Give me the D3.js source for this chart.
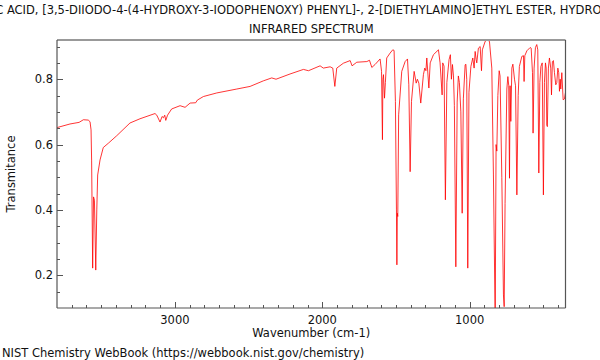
<!DOCTYPE html>
<html><head><meta charset="utf-8">
<script src="https://cdn.jsdelivr.net/npm/d3@7/dist/d3.min.js"></script>
<style>
html,body{margin:0;padding:0;background:#fff;}
svg{display:block;font-family:"DejaVu Sans",sans-serif;}
</style></head>
<body><svg id="c" width="600" height="360"></svg>
<script>
const titleLine1 = "ACETIC ACID, [3,5-DIIODO-4-(4-HYDROXY-3-IODOPHENOXY) PHENYL]-, 2-[DIETHYLAMINO]ETHYL ESTER, HYDROCHLORIDE";
const titleLine2 = "INFRARED SPECTRUM";
const xLabel = "Wavenumber (cm-1)";
const yLabel = "Transmitance";
const footer = "NIST Chemistry WebBook (https://webbook.nist.gov/chemistry)";
const xTickLabels = [3000, 2000, 1000];
const yTickLabels = [0.2, 0.4, 0.6, 0.8];

const wavenumber = [3800,3712,3650,3621,3588,3576,3569,3565,3558,3552,3546,3537,3530,3524,3508,3486,3452,3395,3305,3237,3135,3123,3101,3087,3078,3069,3062,3050,3022,2965,2931,2897,2859,2848,2807,2716,2580,2490,2400,2343,2314,2219,2128,2094,2015,1993,1947,1929,1915,1902,1857,1811,1798,1766,1698,1680,1664,1642,1608,1598,1592,1589,1585,1578,1572,1563,1540,1522,1513,1504,1497,1494,1491,1488,1482,1461,1438,1422,1413,1404,1395,1377,1363,1355,1345,1332,1314,1305,1297,1291,1277,1268,1246,1212,1201,1187,1183,1174,1165,1155,1140,1131,1124,1117,1110,1104,1094,1085,1077,1070,1060,1051,1043,1031,1026,1020,1013,1005,992,979,970,963,956,952,941,929,920,914,895,880,866,850,839,827,821,816,809,800,794,782,771,766,760,748,741,735,730,726,721,714,707,696,689,680,671,663,646,635,631,626,612,590,583,574,570,563,554,545,538,531,524,517,508,500,493,486,481,477,473,466,459,450,445,439,432,425,416,409,402,396,391,386,382,375,366,357,350];
const transmittance = [0.652,0.663,0.668,0.676,0.675,0.670,0.645,0.55,0.222,0.44,0.43,0.216,0.40,0.507,0.553,0.591,0.604,0.627,0.666,0.679,0.695,0.690,0.669,0.686,0.682,0.690,0.674,0.690,0.709,0.719,0.714,0.727,0.728,0.736,0.747,0.758,0.770,0.778,0.795,0.804,0.800,0.816,0.830,0.826,0.841,0.834,0.838,0.834,0.778,0.834,0.849,0.857,0.841,0.852,0.854,0.858,0.836,0.845,0.862,0.824,0.615,0.800,0.814,0.742,0.790,0.865,0.880,0.890,0.888,0.732,0.400,0.232,0.390,0.380,0.691,0.824,0.854,0.862,0.783,0.517,0.732,0.824,0.788,0.800,0.788,0.727,0.814,0.834,0.826,0.865,0.773,0.850,0.875,0.890,0.850,0.752,0.850,0.840,0.431,0.790,0.860,0.875,0.800,0.845,0.810,0.720,0.226,0.730,0.810,0.790,0.700,0.390,0.740,0.844,0.846,0.800,0.222,0.760,0.839,0.865,0.834,0.885,0.860,0.850,0.895,0.900,0.826,0.890,0.916,0.920,0.916,0.834,0.507,0.060,0.600,0.580,0.750,0.826,0.810,0.500,0.140,0.104,0.420,0.770,0.808,0.780,0.497,0.780,0.671,0.834,0.846,0.800,0.780,0.446,0.750,0.839,0.870,0.872,0.793,0.872,0.887,0.897,0.895,0.820,0.635,0.834,0.897,0.906,0.890,0.513,0.790,0.839,0.850,0.446,0.790,0.850,0.834,0.660,0.655,0.834,0.865,0.834,0.752,0.854,0.857,0.820,0.783,0.790,0.834,0.820,0.763,0.800,0.770,0.820,0.737,0.740,0.760];

const data = wavenumber.map((w,i)=>({w, t: transmittance[i]}));

const svg = d3.select("#c");
const L = 57, R = 565.5, T = 40, B = 308;
const x = d3.scaleLinear().domain([3800, 350]).range([L, R]);
const y = d3.scaleLinear().domain([0.1, 0.92]).range([B, T]);
const axisColor = "#555";

svg.append("clipPath").attr("id","clip").append("rect")
  .attr("x", L).attr("y", T).attr("width", R-L).attr("height", B-T);

// spectrum
svg.append("path").datum(data)
  .attr("clip-path","url(#clip)")
  .attr("fill","none").attr("stroke","#ff0000").attr("stroke-width",0.8)
  .attr("stroke-linejoin","round")
  .attr("d", d3.line().x(d=>x(d.w)).y(d=>y(d.t)));

// x axis minor ticks (every 100), major (every 1000)
const xMinor = d3.range(3700, 349, -100);
svg.append("g").selectAll("line").data(xMinor).join("line")
  .attr("x1", d=>Math.round(x(d))+0.5).attr("x2", d=>Math.round(x(d))+0.5)
  .attr("y1", B).attr("y2", d=> d%1000===0 ? B-6 : B-3)
  .attr("stroke", axisColor).attr("stroke-width",1);

// y ticks every 0.05
const yMinor = d3.range(0.15, 0.9201, 0.05).map(v=>+v.toFixed(2));
svg.append("g").selectAll("line").data(yMinor).join("line")
  .attr("y1", d=>Math.round(y(d))+0.5).attr("y2", d=>Math.round(y(d))+0.5)
  .attr("x1", L).attr("x2", d=> yTickLabels.includes(d) ? L+6 : L+3)
  .attr("stroke", axisColor).attr("stroke-width",1);

// frame
svg.append("line").attr("x1",L).attr("x2",R).attr("y1",T).attr("y2",T).attr("stroke","#999").attr("stroke-width",2);
svg.append("line").attr("x1",R).attr("x2",R).attr("y1",T).attr("y2",B).attr("stroke",axisColor).attr("stroke-width",1.2);
svg.append("line").attr("x1",L).attr("x2",L).attr("y1",T).attr("y2",B).attr("stroke",axisColor).attr("stroke-width",1.2);
svg.append("line").attr("x1",L).attr("x2",R).attr("y1",B).attr("y2",B).attr("stroke",axisColor).attr("stroke-width",1.2);

const fs = "11.5px";
// x tick labels
svg.append("g").selectAll("text").data(xTickLabels).join("text")
  .attr("x", d=>x(d)).attr("y", 324).attr("text-anchor","middle")
  .attr("font-size",fs).attr("fill","#111").text(d=>d);
// y tick labels
svg.append("g").selectAll("text").data(yTickLabels).join("text")
  .attr("x", L-4).attr("y", d=>y(d)+4).attr("text-anchor","end")
  .attr("font-size",fs).attr("fill","#111").text(d=>d.toFixed(1));

// labels
svg.append("text").attr("x",(L+R)/2).attr("y",337).attr("text-anchor","middle")
  .attr("font-size",fs).attr("fill","#111").text(xLabel);
svg.append("text").attr("transform",`translate(15,${(T+B)/2}) rotate(-90)`)
  .attr("text-anchor","middle").attr("font-size",fs).attr("fill","#111").text(yLabel);
svg.append("text").attr("x",(L+R)/2).attr("y",14).attr("text-anchor","middle")
  .attr("font-size",fs).attr("fill","#111").text(titleLine1);
svg.append("text").attr("x",(L+R)/2).attr("y",33).attr("text-anchor","middle")
  .attr("font-size",fs).attr("fill","#111").text(titleLine2);
svg.append("text").attr("x",2).attr("y",357)
  .attr("font-size",fs).attr("fill","#111").text(footer);
</script></body></html>
